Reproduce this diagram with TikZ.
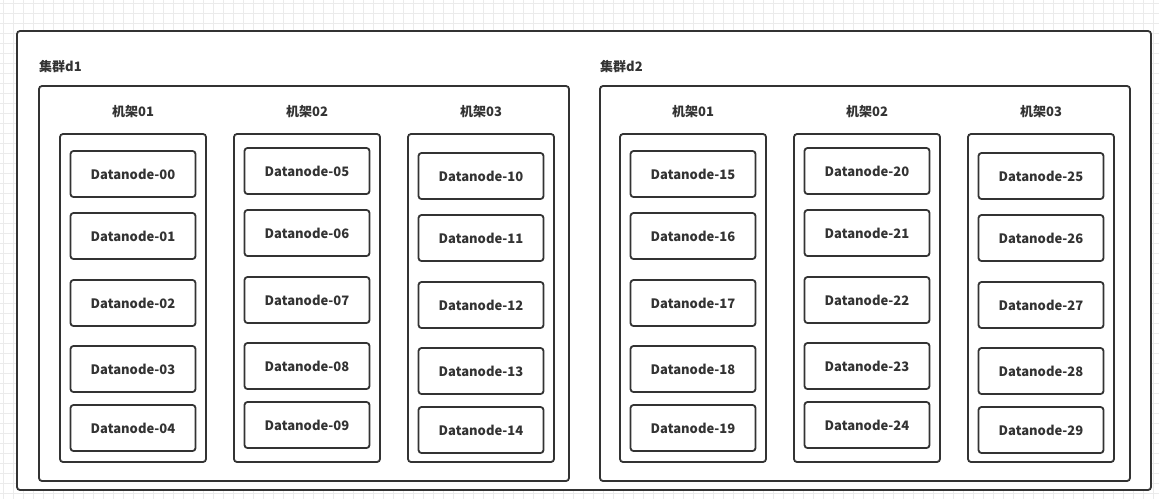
\documentclass[tikz,border=0pt]{standalone}
\usepackage{fontspec}
\setmainfont{Noto Sans CJK SC}
\usetikzlibrary{positioning}
\definecolor{InkGray}{HTML}{333333}
\definecolor{GridGray}{HTML}{EBEBEB}
\tikzset{
  boxline/.style={draw=InkGray, line width=1.8pt, rounded corners=3pt, fill=white},
  rackbox/.style={boxline, minimum width=146pt, minimum height=328pt},
  nodebox/.style={boxline, minimum width=125pt, minimum height=46pt, text=InkGray,
    font=\bfseries\fontsize{13}{15}\selectfont},
  title/.style={text=InkGray, inner sep=0pt, font=\bfseries\fontsize{13}{15}\selectfont}
}

\begin{document}
\begin{tikzpicture}[x=1pt, y=-1pt]
                \useasboundingbox (0,0) rectangle (1159,499);

                % Background grid
                \begin{scope}[shift={(3,3)}]
                    \draw[GridGray, line width=0.6pt, step=10pt] (-3,-3) grid (1156,496);
                \end{scope}

                % Outer frame
                \node[boxline, minimum width=1134pt, minimum height=459pt] (outer) at (584,260.5) {};

                % Clusters
                \node[boxline, minimum width=530pt, minimum height=395pt] (d1) at (304,283.5) {};
                \node[title, anchor=west] (d1title) at (39,67) {集群d1};
                \node[boxline, minimum width=530pt, minimum height=395pt] (d2) at (865,283.5) {};
                \node[title, anchor=west] (d2title) at (600,67) {集群d2};

                % Racks with their titles
                \foreach \r/\x/\t in {1/133/01, 2/307/02, 3/481/03, 4/693/01, 5/867/02, 6/1041/03} {
                    \node[rackbox] (rack\r) at (\x,298) {};
                    \node[title] (rack\r title) at (\x,112) {机架\t};
                }

                % Datanodes, five per rack
                \foreach \r/\x/\y in {1/133/174, 2/307/171, 3/481/176, 4/693/174, 5/867/171, 6/1041/176} {
                    \foreach \k/\dy in {0/0, 1/62, 2/129, 3/195, 4/254} {
                        \pgfmathtruncatemacro\n{(\r-1)*5+\k}
                        \node[nodebox] (dn\n) at (\x,\y+\dy) {Datanode-\ifnum\n<10 0\fi\n};
                    }
                }
            \end{tikzpicture}
\end{document}
